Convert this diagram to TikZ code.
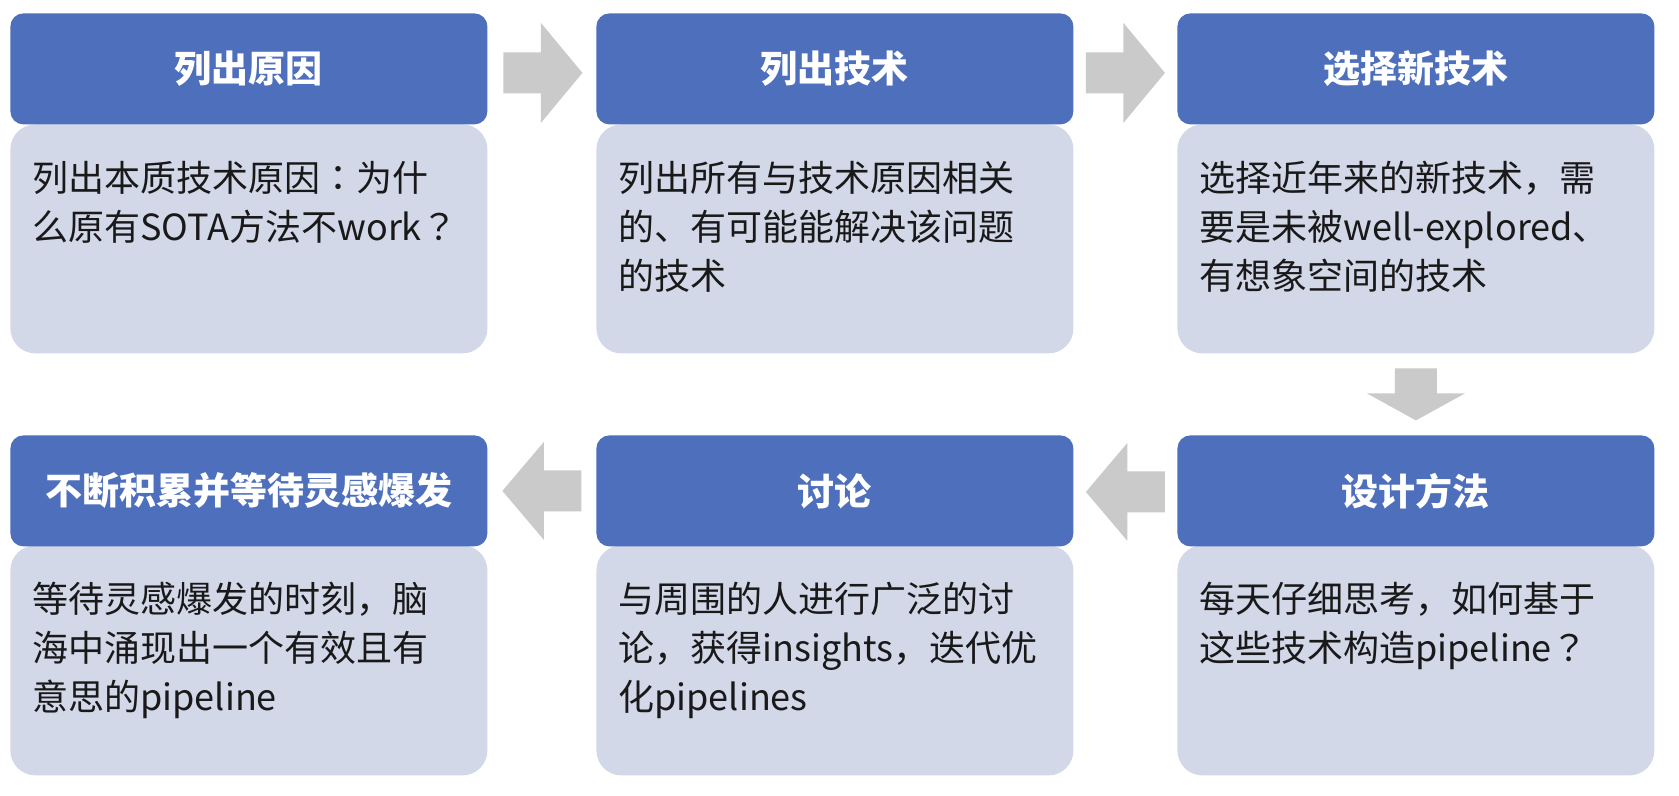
\documentclass[tikz,border=0pt]{standalone}
\usepackage{fontspec}
\setmainfont{Noto Sans CJK SC}
\newfontfamily\tcpunct{Noto Sans CJK TC}
\newcommand{\qmk}{{\tcpunct ？}}
\newcommand{\cln}{{\tcpunct ：}}
\usetikzlibrary{calc}
\definecolor{hdrblue}{RGB}{78,112,188}
\definecolor{bodylav}{RGB}{211,216,233}
\definecolor{arrgray}{RGB}{202,202,202}
\definecolor{txtcol}{RGB}{25,25,25}
\tikzset{
  hdr/.style={rectangle, rounded corners=6.5pt, fill=hdrblue, minimum width=238.5pt, minimum height=55.5pt, inner sep=0pt, text=white, font=\fontsize{18.5}{22}\selectfont\bfseries, anchor=north west},
  bodybox/.style={rectangle, rounded corners=12.5pt, fill=bodylav, minimum width=238.5pt, minimum height=114.5pt, inner sep=0pt, anchor=north west},
  bodytext/.style={anchor=north west, inner sep=0pt, align=left, text=txtcol, font=\fontsize{18}{24.5}\selectfont},
  rarrow/.pic={\fill[arrgray] (-39.5,-20.5) -- (-2,-20.5) -- (-2,-50) -- (39.5,0) -- (-2,50) -- (-2,20.5) -- (-39.5,20.5) -- cycle;},
  larrow/.pic={\fill[arrgray] (39.5,-20.5) -- (2,-20.5) -- (2,-49) -- (-39.5,0) -- (2,49) -- (2,20.5) -- (39.5,20.5) -- cycle;},
  darrow/.pic={\fill[arrgray] (-21,-26) -- (21,-26) -- (21,-1) -- (49,-1) -- (0,26) -- (-49,-1) -- (-21,-1) -- cycle;}
}
\begin{document}
\begin{tikzpicture}[x=0.5pt,y=-0.5pt]
\useasboundingbox (0,0) rectangle (1679,796);
\fill[white] (0,0) rectangle (1679,796);

% row 1 bodies
\node[bodybox] (b1) at (10,124) {};
\node[bodybox] (b2) at (596,124) {};
\node[bodybox] (b3) at (1177,124) {};
% row 2 bodies
\node[bodybox, minimum height=115pt] (b4) at (10,545) {};
\node[bodybox, minimum height=115pt] (b5) at (596,545) {};
\node[bodybox, minimum height=115pt] (b6) at (1177,545) {};

% headers
\node[hdr] (h1) at (10,13) {列出原因};
\node[hdr] (h2) at (596,13) {列出技术};
\node[hdr] (h3) at (1177,13) {选择新技术};
\node[hdr] (h4) at (10,435) {不断积累并等待灵感爆发};
\node[hdr] (h5) at (596,435) {讨论};
\node[hdr] (h6) at (1177,435) {设计方法};

% body texts
\node[bodytext] (t1) at ($(b1.north west)+(22,37)$) {列出本质技术原因\cln 为什\\么原有SOTA方法不work\qmk};
\node[bodytext] (t2) at ($(b2.north west)+(22,37)$) {列出所有与技术原因相关\\的、有可能能解决该问题\\的技术};
\node[bodytext] (t3) at ($(b3.north west)+(22,37)$) {选择近年来的新技术，需\\要是未被well-explored、\\有想象空间的技术};
\node[bodytext] (t4) at ($(b4.north west)+(22,37)$) {等待灵感爆发的时刻，脑\\海中涌现出一个有效且有\\意思的pipeline};
\node[bodytext] (t5) at ($(b5.north west)+(22,37)$) {与周围的人进行广泛的讨\\论，获得insights，迭代优\\化pipelines};
\node[bodytext] (t6) at ($(b6.north west)+(22,37)$) {每天仔细思考，如何基于\\这些技术构造pipeline\qmk};

% block arrows
\pic at ($(h1.east)!0.5!(h2.west)+(1,4)$) {rarrow};
\pic at ($(h2.east)!0.5!(h3.west)+(0,4)$) {rarrow};
\pic at ($(b3.south)!0.5!(h6.north)$) {darrow};
\pic at ($(h5.east)!0.5!(h6.west)+(0,1)$) {larrow};
\pic at ($(h4.east)!0.5!(h5.west)+(0,0)$) {larrow};
\end{tikzpicture}
\end{document}
